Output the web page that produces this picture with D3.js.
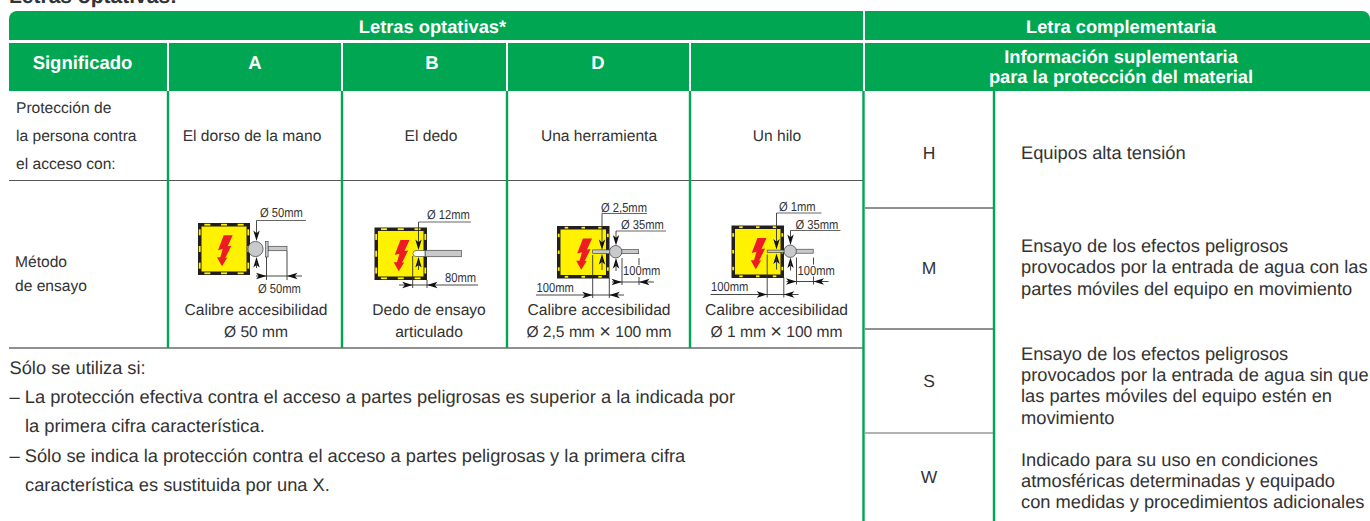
<!DOCTYPE html>
<html>
<head>
<meta charset="utf-8">
<script src="https://cdnjs.cloudflare.com/ajax/libs/d3/7.8.5/d3.min.js"></script>
<style>
    html, body { margin: 0; padding: 0; background: #fff; overflow: hidden; }
    text { font-family: "Liberation Sans", Arial, sans-serif; fill: #333; text-rendering: geometricPrecision; }
</style>
</head>
<body>
<svg id="chart"></svg>
<script>
// Table content
const pageTitle = "Letras optativas:";
const optionalHeader = "Letras optativas*";
const extraHeader = "Letra complementaria";
const extraSubHeader = ["Información suplementaria", "para la protección del material"];
const meaningHeader = "Significado";
const optionalLetters = ["A", "B", "D", ""];
const accessLabel = ["Protección de", "la persona contra", "el acceso con:"];
const accessValues = ["El dorso de la mano", "El dedo", "Una herramienta", "Un hilo"];
const methodLabel = ["Método", "de ensayo"];
const methodValues = [
    ["Calibre accesibilidad", "Ø 50 mm"],
    ["Dedo de ensayo", "articulado"],
    ["Calibre accesibilidad", "Ø 2,5 mm × 100 mm"],
    ["Calibre accesibilidad", "Ø 1 mm × 100 mm"]
];
const footnotes = [
    "Sólo se utiliza si:",
    "– La protección efectiva contra el acceso a partes peligrosas es superior a la indicada por",
    "la primera cifra característica.",
    "– Sólo se indica la protección contra el acceso a partes peligrosas y la primera cifra",
    "característica es sustituida por una X."
];
const extraLetters = ["H", "M", "S", "W"];
const extraValues = [
    ["Equipos alta tensión"],
    ["Ensayo de los efectos peligrosos", "provocados por la entrada de agua con las", "partes móviles del equipo en movimiento"],
    ["Ensayo de los efectos peligrosos", "provocados por la entrada de agua sin que", "las partes móviles del equipo estén en", "movimiento"],
    ["Indicado para su uso en condiciones", "atmosféricas determinadas y equipado", "con medidas y procedimientos adicionales"]
];

const GREEN = "#00a651";
const width = 1370, height = 521;

const svg = d3.select("#chart")
    .attr("width", width)
    .attr("height", height)
    .style("display", "block");

// Column and row layout
const colX = d3.scaleOrdinal().domain([...optionalLetters.keys()]).range([168, 342, 507, 690]);
const extraY = d3.scaleOrdinal().domain(extraLetters).range([91, 208, 329, 433]);
const letterBase = d3.scaleOrdinal().domain(extraLetters).range([158.5, 274, 386.5, 482.5]);
const lineBase = d3.scaleOrdinal().domain(extraLetters).range([159, 252, 359.5, 465.5]);

function addText(parent, str, x, y, size, opts = {}) {
    return parent.append("text")
        .attr("x", x)
        .attr("y", y)
        .attr("font-size", size)
        .attr("font-weight", opts.bold ? "bold" : null)
        .attr("text-anchor", opts.anchor || "start")
        .style("fill", opts.fill || null)
        .text(str);
}

// Dimension labels are a condensed face in the original
function addLabel(parent, str, x, y) {
    const t = addText(parent, str, x, y, 13);
    const len = t.node().getComputedTextLength();
    t.attr("textLength", len * 0.86).attr("lengthAdjust", "spacingAndGlyphs");
    return t;
}

function addLine(parent, x1, y1, x2, y2, color = "#333", w = 0.9) {
    parent.append("line")
        .attr("x1", x1).attr("y1", y1)
        .attr("x2", x2).attr("y2", y2)
        .attr("stroke", color)
        .attr("stroke-width", w);
}

// Header bands
const header = svg.append("g");
const roundTop = (x0, x1, y0, y1, rl, rr) => {
    const p = d3.path();
    p.moveTo(x0, y1);
    p.lineTo(x0, y0 + rl);
    if (rl) p.arcTo(x0, y0, x0 + rl, y0, rl);
    p.lineTo(x1 - rr, y0);
    if (rr) p.arcTo(x1, y0, x1, y0 + rr, rr);
    p.lineTo(x1, y1);
    p.closePath();
    return p.toString();
};
header.append("path").attr("d", roundTop(9, 863, 11, 40, 8, 0)).attr("fill", GREEN);
header.append("path").attr("d", roundTop(865, 1370, 11, 40, 0, 8)).attr("fill", GREEN);
header.append("rect").attr("x", 9).attr("y", 43).attr("width", 854).attr("height", 48).attr("fill", GREEN);
header.append("rect").attr("x", 865).attr("y", 43).attr("width", 505).attr("height", 48).attr("fill", GREEN);
optionalLetters.forEach((d, i) => {
    header.append("rect").attr("x", colX(i) - 1).attr("y", 43).attr("width", 2).attr("height", 48).attr("fill", "#fff");
});

addText(svg, pageTitle, 9, 3, 21, { bold: true });
addText(header, optionalHeader, 432.5, 32.5, 18.3, { bold: true, anchor: "middle", fill: "#fff" });
addText(header, extraHeader, 1121, 32.5, 18.3, { bold: true, anchor: "middle", fill: "#fff" });
addText(header, meaningHeader, 82.5, 69, 18.5, { bold: true, anchor: "middle", fill: "#fff" });
optionalLetters.forEach((d, i) => {
    addText(header, d, [255, 432, 598, 780][i], 69, 18.5, { bold: true, anchor: "middle", fill: "#fff" });
});
extraSubHeader.forEach((d, i) => {
    addText(header, d, 1121, 63.3 + i * 20, 18.3, { bold: true, anchor: "middle", fill: "#fff" });
});

// Left grid
const grid = svg.append("g");
addLine(grid, 9, 180.5, 863, 180.5, "#555", 1);
addLine(grid, 9, 348, 863, 348, "#222", 1.2);
optionalLetters.forEach((d, i) => {
    addLine(grid, colX(i), 91, colX(i), 348, GREEN, 2.4);
});
addLine(grid, 863.5, 91, 863.5, 521, GREEN, 2.4);

// Right grid
extraLetters.slice(1).forEach((d, i) => {
    addLine(grid, 865, extraY(d), 993, extraY(d), i === 2 ? "#666" : "#222", 1);
});
addLine(grid, 994, 91, 994, 521, GREEN, 2.4);

// Left text
accessLabel.forEach((d, i) => addText(svg, d, 16, [112.7, 141, 168.5][i], 15.6));
accessValues.forEach((d, i) => addText(svg, d, [252, 431, 599, 777][i], 141, 15.6, { anchor: "middle" }));
methodLabel.forEach((d, i) => addText(svg, d, 15, 267 + i * 24, 15.6));
methodValues.forEach((lines, i) => {
    lines.forEach((d, j) => {
        addText(svg, null, [256, 429, 599, 776.5][i], 315 + j * 22, 15.6, { anchor: "middle" })
            .html(d.replace("×", '<tspan font-size="20" dy="1">×</tspan><tspan dy="-1"> </tspan>'));
    });
});
footnotes.forEach((d, i) => addText(svg, d, d.startsWith("–") || i === 0 ? 9.5 : 25, [374, 403, 431.5, 461.5, 490.5][i], 18.3));

// Right text
extraLetters.forEach((d, i) => {
    addText(svg, d, 929, letterBase(d), 17.5, { anchor: "middle" });
    extraValues[i].forEach((t, j) => addText(svg, t, 1021, lineBase(d) + j * 21.4, 18.3));
});

// Test diagrams
function arrow(parent, x, y, dir) {
    const len = 10.5, half = 3.2;
    const v = { right: [1, 0], left: [-1, 0], down: [0, 1], up: [0, -1] }[dir];
    const pts = [
        [x, y],
        [x - v[0] * len - v[1] * half, y - v[1] * len - v[0] * half],
        [x - v[0] * len * 0.75, y - v[1] * len * 0.75],
        [x - v[0] * len + v[1] * half, y - v[1] * len + v[0] * half]
    ];
    parent.append("path").attr("d", d3.line()(pts) + "Z").attr("fill", "#111");
}

function enclosure(parent, x, y, size, dash) {
    parent.append("rect").attr("x", x).attr("y", y).attr("width", size).attr("height", size).attr("fill", "#231f20");
    parent.append("rect").attr("x", x + 3.5).attr("y", y + 3.5).attr("width", size - 7).attr("height", size - 7).attr("fill", "#fff200");
    [0.18, 0.5, 0.82].forEach(f => {
        const c = f * size;
        [1.7, size - 1.7].forEach(o => {
            parent.append("rect").attr("x", x + c - dash / 2).attr("y", y + o - 0.9).attr("width", dash).attr("height", 1.8).attr("fill", "#fff200");
            parent.append("rect").attr("x", x + o - 0.9).attr("y", y + c - dash / 2).attr("width", 1.8).attr("height", dash).attr("fill", "#fff200");
        });
    });
    const k = size / 52;
    const bolt = [[25.7, 12.3], [34.7, 12.3], [29.7, 23.3], [33.3, 22.7], [27.3, 35], [29.5, 34.3], [24, 43.3], [19, 34.3], [22.3, 34.3], [24.7, 26], [20, 27.3]]
        .map(p => [x + p[0] * k, y + p[1] * k]);
    parent.append("path").attr("d", d3.line()(bolt) + "Z").attr("fill", "#ed1c24");
}

function rod(parent, x0, x1, cy, thick) {
    parent.append("rect")
        .attr("x", x0).attr("y", cy - thick / 2)
        .attr("width", x1 - x0).attr("height", thick)
        .attr("fill", "#c8c9ca").attr("stroke", "#333").attr("stroke-width", 0.6);
}

function sphere(parent, cx, cy, r) {
    parent.append("circle").attr("cx", cx).attr("cy", cy).attr("r", r)
        .attr("fill", "#c8c9ca").attr("stroke", "#333").attr("stroke-width", 0.7);
}

// A: sphere
(function () {
    const g = svg.append("g");
    enclosure(g, 198, 223, 52, 6);
    rod(g, 268, 287, 248.5, 4.5);
    sphere(g, 255.5, 249, 7.6);
    g.append("rect").attr("x", 265.5).attr("y", 241.5).attr("width", 2.6).attr("height", 15.5).attr("fill", "#c8c9ca").attr("stroke", "#333").attr("stroke-width", 0.6);
    addLabel(g, "Ø 50mm", 260, 217);
    addLine(g, 256.5, 220.5, 306, 220.5, "#555");
    addLine(g, 256.5, 220.5, 256.5, 235);
    arrow(g, 256.5, 241, "down");
    arrow(g, 256.5, 257, "up");
    addLine(g, 256.5, 262, 256.5, 268);
    addLine(g, 266.5, 257, 266.5, 280);
    addLine(g, 287, 251, 287, 280);
    addLine(g, 256, 276, 302, 276);
    arrow(g, 266.5, 276, "right");
    arrow(g, 287, 276, "left");
    addLabel(g, "Ø 50mm", 258, 293);
})();

// B: articulated finger
(function () {
    const g = svg.append("g");
    enclosure(g, 374.5, 227.5, 52.5, 6);
    rod(g, 425, 461.5, 253.5, 6.5);
    g.append("path")
        .attr("d", "M425,250.5 L416,250.5 A3,3 0 0 0 416,256.5 L425,256.5 Z")
        .attr("fill", "#fff").attr("stroke", "#333").attr("stroke-width", 0.6);
    addLabel(g, "Ø 12mm", 427, 219);
    addLine(g, 418.5, 222, 471, 222, "#555");
    addLine(g, 418.5, 222, 418.5, 244);
    arrow(g, 418.5, 250, "down");
    arrow(g, 418.5, 257, "up");
    addLine(g, 418.5, 262, 418.5, 270);
    addLine(g, 412.7, 256, 412.7, 288);
    addLine(g, 427, 280, 427, 288);
    addLine(g, 399, 285, 478, 285);
    arrow(g, 412.7, 285, "right");
    arrow(g, 427, 285, "left");
    addLabel(g, "80mm", 445, 282);
})();

// D and wire: needle through sphere, same drawing shifted
function needleDiagram(dx, dy, label, needle, labelDx) {
    const g = svg.append("g").attr("transform", `translate(${dx},${dy})`);
    enclosure(g, 557, 226, 52.5, 3.5);
    rod(g, 592.7, 610.7, 251.7, needle);
    rod(g, 621, 638.7, 251.7, 4);
    sphere(g, 615.7, 251.7, 6.2);
    addLabel(g, label, 601 + labelDx, 211.5);
    addLine(g, 602, 213.5, 647, 213.5, "#555");
    addLine(g, 602, 213.5, 602, 244);
    arrow(g, 602, 250, "down");
    arrow(g, 602, 254, "up");
    addLine(g, 602, 259, 602, 270);
    addLabel(g, "Ø 35mm", 621, 229);
    addLine(g, 616, 231, 666, 231, "#555");
    addLine(g, 616, 231, 616, 239);
    arrow(g, 616, 245.5, "down");
    arrow(g, 616, 258, "up");
    addLine(g, 616, 263, 616, 271);
    addLabel(g, "100mm", 623, 275);
    addLine(g, 622, 258, 622, 285);
    addLine(g, 639, 258, 639, 265);
    addLine(g, 639, 277, 639, 285);
    addLine(g, 612, 282, 654, 282);
    arrow(g, 622, 282, "right");
    arrow(g, 639, 282, "left");
    addLabel(g, "100mm", 536.5, 291.5);
    addLine(g, 536, 295, 624, 295);
    addLine(g, 592.7, 255, 592.7, 298);
    addLine(g, 609.3, 278, 609.3, 298);
    arrow(g, 592.7, 295, "right");
    arrow(g, 609.3, 295, "left");
}
needleDiagram(0, 0, "Ø 2,5mm", 3.6, 0);
needleDiagram(174.5, -0.5, "Ø 1mm", 2.2, 3.5);
</script>
</body>
</html>
